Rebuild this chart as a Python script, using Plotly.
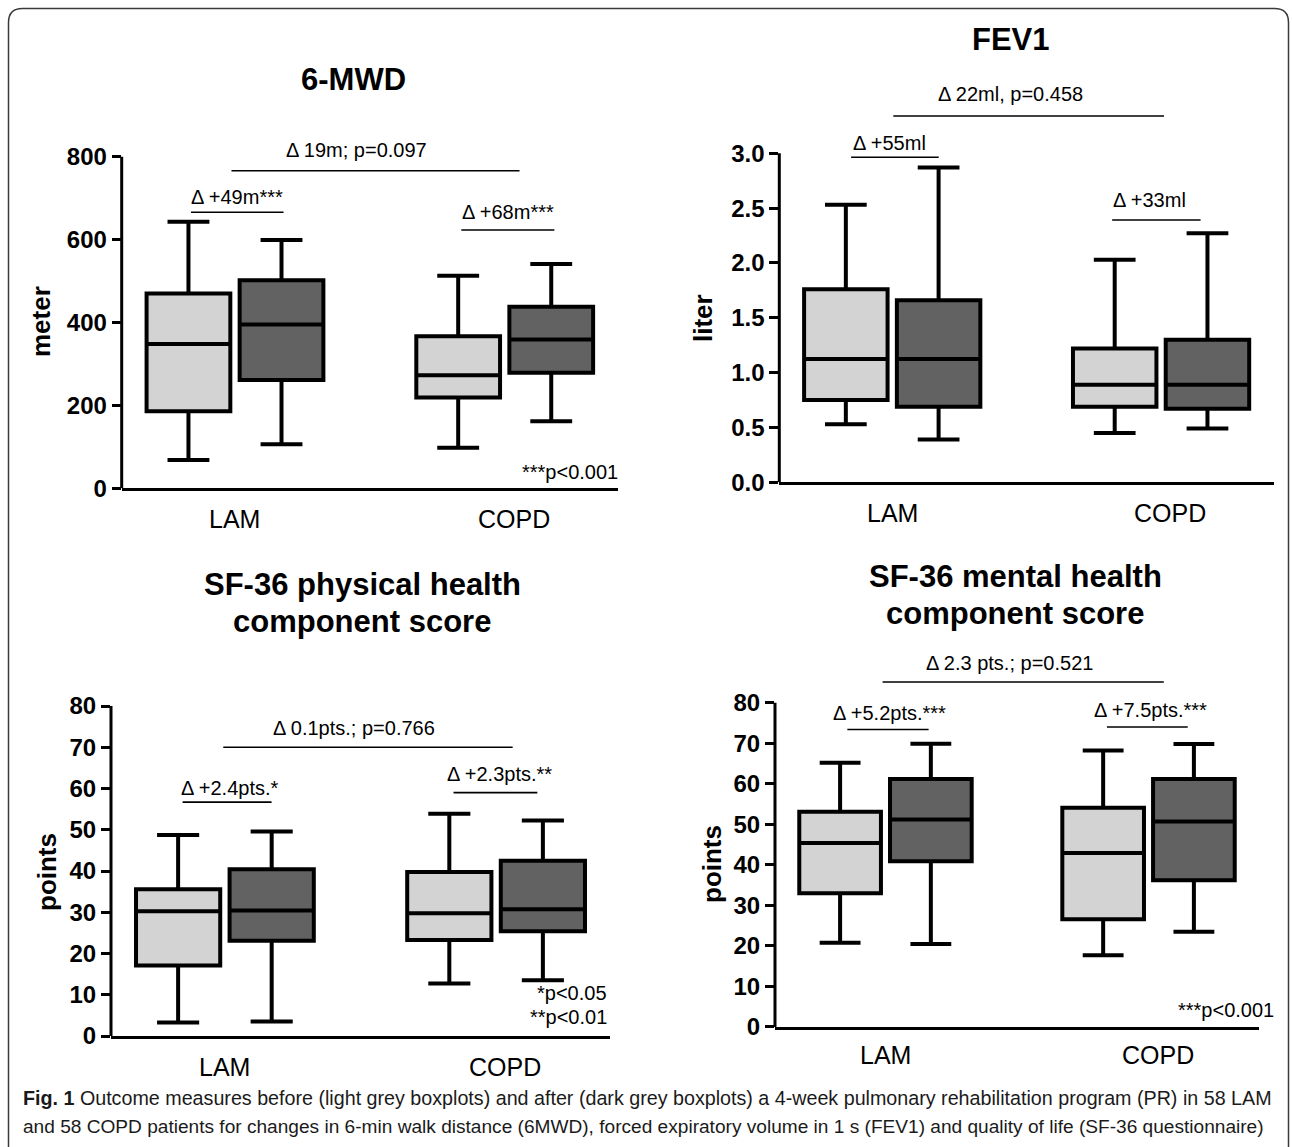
import plotly.graph_objects as go

W, H = 1292, 1147
FONT = "Liberation Sans, Arial, Helvetica, sans-serif"
LIGHT = "#d3d3d3"
DARK = "#626262"

# ------------------------------------------------------------------ data
categories = ["LAM", "COPD"]

# 6-MWD (meter)
mwd_pre_lower = [68, 98]
mwd_pre_q1 = [186, 219]
mwd_pre_median = [348, 273]
mwd_pre_q3 = [470, 367]
mwd_pre_upper = [643, 513]
mwd_post_lower = [106, 162]
mwd_post_q1 = [261, 279]
mwd_post_median = [395, 359]
mwd_post_q3 = [502, 438]
mwd_post_upper = [599, 541]
mwd_ticks = [0, 200, 400, 600, 800]
mwd_labels = ["Δ 19m; p=0.097", "Δ +49m***", "Δ +68m***"]
mwd_notes = ["***p&lt;0.001"]

# FEV1 (liter)
fev_pre_lower = [0.53, 0.45]
fev_pre_q1 = [0.75, 0.69]
fev_pre_median = [1.125, 0.89]
fev_pre_q3 = [1.76, 1.22]
fev_pre_upper = [2.53, 2.03]
fev_post_lower = [0.39, 0.49]
fev_post_q1 = [0.69, 0.67]
fev_post_median = [1.125, 0.89]
fev_post_q3 = [1.66, 1.30]
fev_post_upper = [2.87, 2.27]
fev_ticks = [0, 0.5, 1.0, 1.5, 2.0, 2.5, 3.0]
fev_labels = ["Δ 22ml, p=0.458", "Δ +55ml", "Δ +33ml"]
fev_notes = []

# SF-36 physical component score (points)
pcs_pre_lower = [3.3, 12.75]
pcs_pre_q1 = [17.1, 23.3]
pcs_pre_median = [30.25, 29.75]
pcs_pre_q3 = [35.6, 39.75]
pcs_pre_upper = [48.75, 53.9]
pcs_post_lower = [3.5, 13.5]
pcs_post_q1 = [23.1, 25.4]
pcs_post_median = [30.4, 30.7]
pcs_post_q3 = [40.4, 42.5]
pcs_post_upper = [49.6, 52.25]
pcs_ticks = [0, 10, 20, 30, 40, 50, 60, 70, 80]
pcs_labels = ["Δ 0.1pts.; p=0.766", "Δ +2.4pts.*", "Δ +2.3pts.**"]
pcs_notes = ["*p&lt;0.05", "**p&lt;0.01"]

# SF-36 mental component score (points)
mcs_pre_lower = [20.8, 17.7]
mcs_pre_q1 = [33.0, 26.6]
mcs_pre_median = [45.4, 42.9]
mcs_pre_q3 = [53.1, 54.1]
mcs_pre_upper = [65.2, 68.2]
mcs_post_lower = [20.5, 23.5]
mcs_post_q1 = [40.9, 36.2]
mcs_post_median = [51.2, 50.7]
mcs_post_q3 = [61.2, 61.2]
mcs_post_upper = [69.9, 69.8]
mcs_ticks = [0, 10, 20, 30, 40, 50, 60, 70, 80]
mcs_labels = ["Δ 2.3 pts.; p=0.521", "Δ +5.2pts.***", "Δ +7.5pts.***"]
mcs_notes = ["***p&lt;0.001"]

caption_lines = [
    "<b>Fig. 1</b> Outcome measures before (light grey boxplots) and after (dark grey boxplots) a 4-week pulmonary rehabilitation program (PR) in 58 LAM",
    "and 58 COPD patients for changes in 6-min walk distance (6MWD), forced expiratory volume in 1 s (FEV1) and quality of life (SF-36 questionnaire)",
]

# ------------------------------------------------------------------ layout geometry (pixels)
XR = [-0.42, 1.42]
CAT_XSHIFT = [0, 9]
panels = [
    dict(title=["6-MWD"], title_xy=(353, 79), ylabel="meter", ylabel_xy=(41, 322),
         pre=(mwd_pre_lower, mwd_pre_q1, mwd_pre_median, mwd_pre_q3, mwd_pre_upper),
         post=(mwd_post_lower, mwd_post_q1, mwd_post_median, mwd_post_q3, mwd_post_upper),
         ticks=mwd_ticks, fmt="d", ymax=840, ax=(121.7, 618), y0=488.3, ppu=331.6 / 800,
         labels=mwd_labels,
         label_pos=[(0.452, 816, -0.013, 1.055, 766), (0.008, 703, -0.163, 0.18, 666),
                    (1.012, 667, 0.839, 1.184, 623)],
         notes=mwd_notes, note_pos=[(1.004, 40)], catdy=31),
    dict(title=["FEV1"], title_xy=(1011, 39), ylabel="liter", ylabel_xy=(703, 318),
         pre=(fev_pre_lower, fev_pre_q1, fev_pre_median, fev_pre_q3, fev_pre_upper),
         post=(fev_post_lower, fev_post_q1, fev_post_median, fev_post_q3, fev_post_upper),
         ticks=fev_ticks, fmt=".1f", ymax=3.6, ax=(779.3, 1274), y0=482.3, ppu=329.0 / 3,
         labels=fev_labels,
         label_pos=[(0.441, 3.538, 0.004, 1.011, 3.34), (-0.01, 3.097, -0.153, 0.173, 2.964),
                    (0.956, 2.574, 0.818, 1.147, 2.392)],
         notes=fev_notes, note_pos=[], catdy=31),
    dict(title=["SF-36 physical health", "component score"], title_xy=(362, 584), ylabel="points",
         ylabel_xy=(47, 872),
         pre=(pcs_pre_lower, pcs_pre_q1, pcs_pre_median, pcs_pre_q3, pcs_pre_upper),
         post=(pcs_post_lower, pcs_post_q1, pcs_post_median, pcs_post_q3, pcs_post_upper),
         ticks=pcs_ticks, fmt="d", ymax=80, ax=(111, 610), y0=1036, ppu=330.0 / 80,
         labels=pcs_labels,
         label_pos=[(0.477, 74.6, -0.006, 1.061, 70), (0.02, 60.2, -0.156, 0.172, 56.7),
                    (1.011, 63.5, 0.843, 1.152, 59)],
         notes=pcs_notes, note_pos=[(0.997, 10.4), (0.997, 4.6)], catdy=31),
    dict(title=["SF-36 mental health", "component score"], title_xy=(1015, 576), ylabel="points",
         ylabel_xy=(712, 864),
         pre=(mcs_pre_lower, mcs_pre_q1, mcs_pre_median, mcs_pre_q3, mcs_pre_upper),
         post=(mcs_post_lower, mcs_post_q1, mcs_post_median, mcs_post_q3, mcs_post_upper),
         ticks=mcs_ticks, fmt="d", ymax=92, ax=(775, 1259), y0=1027, ppu=324.3 / 80,
         labels=mcs_labels,
         label_pos=[(0.47, 89.8, -0.011, 1.058, 85.1), (0.015, 77.5, -0.145, 0.164, 73.4),
                    (1.006, 78.3, 0.842, 1.149, 74.0)],
         notes=mcs_notes, note_pos=[(1.035, 4.3)], catdy=28),
]

fig = go.Figure()
shapes = []
annotations = []
layout_axes = {}


def px_x(x):
    return x / W


def px_y(y):
    return 1 - y / H


for i, p in enumerate(panels, start=1):
    sfx = "" if i == 1 else str(i)
    xa, ya = "x" + sfx, "y" + sfx
    for name, vals, fill in (("before", p["pre"], LIGHT), ("after", p["post"], DARK)):
        lo, q1, med, q3, hi = vals
        fig.add_trace(go.Box(
            x=categories, q1=q1, median=med, q3=q3, lowerfence=lo, upperfence=hi,
            name=name, orientation="v", boxpoints=False, fillcolor=fill,
            line=dict(color="black", width=4), whiskerwidth=0.5,
            offsetgroup=name, alignmentgroup="panel%d" % i,
            xaxis=xa, yaxis=ya, showlegend=False, hoverinfo="skip",
        ))

    top_px = p["y0"] - p["ymax"] * p["ppu"]
    layout_axes["xaxis" + sfx] = dict(
        domain=[px_x(p["ax"][0]), px_x(p["ax"][1])], range=XR, type="category",
        categoryorder="array", categoryarray=categories,
        anchor=ya, showline=True, linewidth=3, linecolor="black", ticks="",
        showticklabels=False, showgrid=False, zeroline=False, automargin=False,
        fixedrange=True,
    )
    layout_axes["yaxis" + sfx] = dict(
        domain=[px_y(p["y0"]), px_y(top_px)], range=[0, p["ymax"]], anchor=xa,
        tickmode="array", tickvals=p["ticks"],
        ticktext=[format(t, p["fmt"]) if p["fmt"] != "d" else str(int(t)) for t in p["ticks"]],
        ticks="outside", ticklen=9, tickwidth=3, tickcolor="black",
        showline=False, showgrid=False, zeroline=False, automargin=False,
        tickfont=dict(family=FONT, size=24, color="black", weight="bold"), fixedrange=True,
    )
    # category labels under the x axis
    for cat, dx in zip(categories, CAT_XSHIFT):
        annotations.append(dict(xref=xa, yref=ya + " domain", x=cat, y=0, yshift=-p["catdy"],
                                xshift=dx, text=cat, showarrow=False, xanchor="center",
                                yanchor="middle", font=dict(family=FONT, size=25, color="black")))
    # y axis line up to the top tick
    shapes.append(dict(type="line", xref=xa + " domain", yref=ya, x0=0, x1=0,
                       y0=0, y1=max(p["ticks"]), line=dict(color="black", width=3)))
    # comparison brackets
    for text, (tx, ty, lx0, lx1, ly) in zip(p["labels"], p["label_pos"]):
        shapes.append(dict(type="line", xref=xa, yref=ya, x0=lx0, x1=lx1, y0=ly, y1=ly,
                           line=dict(color="black", width=1.6)))
        annotations.append(dict(xref=xa, yref=ya, x=tx, y=ty, text=text, showarrow=False,
                                font=dict(family=FONT, size=20, color="black"),
                                xanchor="center", yanchor="middle"))
    for text, (nx, ny) in zip(p["notes"], p["note_pos"]):
        annotations.append(dict(xref=xa + " domain", yref=ya, x=nx, y=ny, text=text,
                                showarrow=False, xanchor="right", yanchor="middle",
                                font=dict(family=FONT, size=20, color="black")))
    # panel title
    tx, ty = p["title_xy"]
    for k, line in enumerate(p["title"]):
        annotations.append(dict(xref="paper", yref="paper", x=px_x(tx), y=px_y(ty + 37 * k),
                                text="<b>" + line + "</b>", showarrow=False,
                                xanchor="center", yanchor="middle",
                                font=dict(family=FONT, size=31, color="black")))
    # y-axis title
    lx, ly = p["ylabel_xy"]
    annotations.append(dict(xref="paper", yref="paper", x=px_x(lx), y=px_y(ly),
                            text="<b>" + p["ylabel"] + "</b>", textangle=-90, showarrow=False,
                            xanchor="center", yanchor="middle",
                            font=dict(family=FONT, size=26, color="black")))

# caption
for k, (line, size) in enumerate(zip(caption_lines, [19.7, 19.1])):
    annotations.append(dict(xref="paper", yref="paper", x=px_x(21), y=px_y(1098 + 28 * k),
                            text=line, showarrow=False, xanchor="left", yanchor="middle",
                            font=dict(family=FONT, size=size, color="#1a1a1a")))

# rounded outer frame
r = 14
fx0, fx1, fy0, fy1 = 8.5, 1288.5, 8.5, 1200
path = (f"M {px_x(fx0)},{px_y(fy1)} L {px_x(fx0)},{px_y(fy0 + r)} "
        f"Q {px_x(fx0)},{px_y(fy0)} {px_x(fx0 + r)},{px_y(fy0)} "
        f"L {px_x(fx1 - r)},{px_y(fy0)} Q {px_x(fx1)},{px_y(fy0)} {px_x(fx1)},{px_y(fy0 + r)} "
        f"L {px_x(fx1)},{px_y(fy1)}")
shapes.append(dict(type="path", xref="paper", yref="paper", path=path,
                   line=dict(color="#3a3a3a", width=1.5)))

fig.update_layout(
    width=W, height=H, margin=dict(l=0, r=0, t=0, b=0, pad=0, autoexpand=False),
    paper_bgcolor="white", plot_bgcolor="white",
    boxmode="group", boxgap=0.31, boxgroupgap=0.1,
    showlegend=False, shapes=shapes, annotations=annotations,
    font=dict(family=FONT, color="black"),
    **layout_axes,
)

fig.write_html("out.html", config={"displayModeBar": False},
               post_script="document.body.style.margin='0';document.body.style.overflow='hidden';")
